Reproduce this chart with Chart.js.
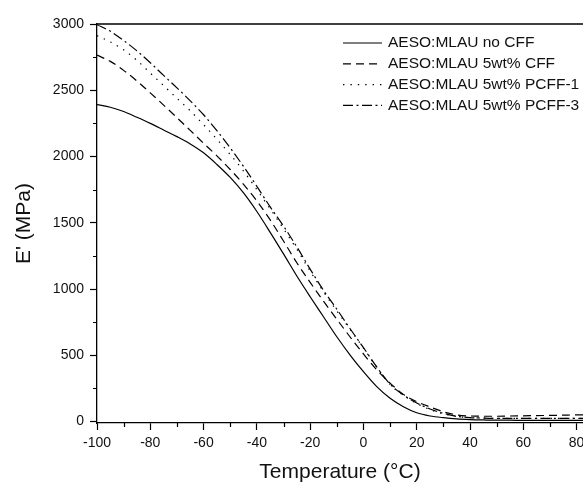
<!DOCTYPE html>
<html>
<head>
<meta charset="utf-8">
<script src="https://cdn.jsdelivr.net/npm/chart.js@4"></script>
<style>
  html, body { margin: 0; padding: 0; background: #fff; overflow: hidden; }
  #wrap { position: relative; width: 583px; height: 485px; }
</style>
</head>
<body>
<div id="wrap"><canvas id="modChart" width="583" height="485"></canvas></div>
<script>
// temperature (°C)
const temps = [-100, -95, -90, -85, -80, -75, -70, -65, -60, -55, -50, -45, -40, -35, -30, -25, -20, -15, -10, -5,
  0, 5, 10, 15, 20, 25, 30, 35, 40, 45, 50, 55, 60, 65, 70, 75, 80, 82.5];

// storage modulus E' (MPa)
const noCFF = [2392, 2372, 2340, 2296, 2250, 2200, 2150, 2095, 2028, 1940, 1842, 1725, 1585, 1428, 1265, 1098, 942, 791, 640, 502,
  376, 263, 175, 112, 66, 42, 29, 20, 15, 12, 10, 10, 9, 9, 9, 9, 9, 9];
const cff5 = [2765, 2718, 2650, 2570, 2480, 2388, 2293, 2197, 2100, 2005, 1902, 1790, 1665, 1522, 1362, 1198, 1050, 908, 772, 638,
  510, 390, 290, 205, 150, 110, 74, 50, 42, 40, 40, 42, 43, 45, 46, 48, 50, 50];
const pcff1 = [2912, 2865, 2805, 2725, 2630, 2535, 2440, 2345, 2240, 2130, 2015, 1890, 1750, 1605, 1455, 1300, 1135, 980, 835, 695,
  555, 410, 280, 198, 136, 90, 58, 38, 30, 26, 24, 24, 24, 24, 24, 24, 24, 24];
const pcff3 = [2995, 2945, 2875, 2797, 2708, 2612, 2518, 2420, 2315, 2195, 2065, 1925, 1775, 1620, 1475, 1318, 1150, 990, 848, 700,
  558, 412, 282, 200, 140, 95, 62, 40, 30, 26, 24, 24, 24, 24, 24, 24, 24, 24];

const seriesNames = ["AESO:MLAU no CFF", "AESO:MLAU 5wt% CFF", "AESO:MLAU 5wt% PCFF-1", "AESO:MLAU 5wt% PCFF-3"];

const xMajor = [-100, -80, -60, -40, -20, 0, 20, 40, 60, 80];
const xMinor = [-90, -70, -50, -30, -10, 10, 30, 50, 70];
const yMajor = [0, 500, 1000, 1500, 2000, 2500, 3000];
const yMinor = [250, 750, 1250, 1750, 2250, 2750];

const dashes = [[], [8, 5], [1.4, 6], [10, 3.5, 2, 3.5]];
const allSeries = [noCFF, cff5, pcff1, pcff3];

function toPoints(vals) {
  return temps.map((t, i) => ({ x: t, y: vals[i] }));
}

// minor ticks, top frame line and the legend box
const extrasPlugin = {
  id: "extras",
  afterDraw(chart) {
    const c = chart.ctx;
    const area = chart.chartArea;
    const xs = chart.scales.x;
    const ys = chart.scales.y;
    c.save();
    c.strokeStyle = "#000";
    c.lineWidth = 1.3;
    c.beginPath();
    c.moveTo(area.left, area.top);
    c.lineTo(area.right, area.top);
    c.stroke();

    c.lineWidth = 1.2;
    c.beginPath();
    xMinor.forEach((v) => {
      const px = Math.round(xs.getPixelForValue(v)) + 0.5;
      c.moveTo(px, area.bottom);
      c.lineTo(px, area.bottom + 4);
    });
    yMinor.forEach((v) => {
      const py = Math.round(ys.getPixelForValue(v)) + 0.5;
      c.moveTo(area.left, py);
      c.lineTo(area.left - 4, py);
    });
    c.stroke();

    // legend
    c.font = "15.5px 'Liberation Sans', Arial, sans-serif";
    c.fillStyle = "#111";
    c.textBaseline = "middle";
    seriesNames.forEach((name, i) => {
      const y = 43 + i * 20.8;
      c.setLineDash(dashes[i]);
      c.lineWidth = 1.2;
      c.beginPath();
      c.moveTo(343, y);
      c.lineTo(382, y);
      c.stroke();
      c.setLineDash([]);
      c.fillText(name, 388, y);
    });
    c.restore();
  },
};

const ctx = document.getElementById("modChart").getContext("2d");
new Chart(ctx, {
  type: "line",
  data: {
    datasets: allSeries.map((vals, i) => ({
      label: seriesNames[i],
      data: toPoints(vals),
      borderColor: "#000",
      borderWidth: 1.2,
      borderDash: dashes[i],
      pointRadius: 0,
      fill: false,
      cubicInterpolationMode: "monotone",
    })),
  },
  options: {
    responsive: false,
    animation: false,
    layout: { padding: { top: 24, right: 0, bottom: 0, left: 0 } },
    plugins: {
      legend: { display: false },
      tooltip: { enabled: false },
    },
    scales: {
      x: {
        type: "linear",
        min: -100,
        max: 82.4,
        afterBuildTicks: (axis) => {
          axis.ticks = xMajor.map((v) => ({ value: v }));
        },
        afterFit: (axis) => {
          axis.height = 62;
          axis.paddingLeft = 0;
          axis.paddingRight = 0;
        },
        grid: { drawOnChartArea: false, tickLength: 7, tickColor: "#000", tickWidth: 1.2 },
        border: { display: true, color: "#000", width: 1.3 },
        ticks: {
          color: "#111",
          padding: 5,
          maxRotation: 0,
          autoSkip: false,
          callback: (v) => String(v),
          font: { family: "'Liberation Sans', Arial, sans-serif", size: 14 },
        },
        title: {
          display: true,
          text: "Temperature (°C)",
          color: "#111",
          padding: { top: 0, bottom: 0 },
          font: { family: "'Liberation Sans', Arial, sans-serif", size: 21 },
        },
      },
      y: {
        min: -11,
        max: 3000,
        afterBuildTicks: (axis) => {
          axis.ticks = yMajor.map((v) => ({ value: v }));
        },
        afterFit: (axis) => {
          axis.width = 97;
        },
        grid: { drawOnChartArea: false, tickLength: 7, tickColor: "#000", tickWidth: 1.2 },
        border: { display: true, color: "#000", width: 1.3 },
        ticks: {
          color: "#111",
          padding: 6,
          callback: (v) => String(v),
          font: { family: "'Liberation Sans', Arial, sans-serif", size: 14 },
        },
        title: {
          display: true,
          text: "E' (MPa)",
          color: "#111",
          padding: { top: 12, bottom: 0 },
          font: { family: "'Liberation Sans', Arial, sans-serif", size: 21 },
        },
      },
    },
  },
  plugins: [extrasPlugin],
});
</script>
</body>
</html>
